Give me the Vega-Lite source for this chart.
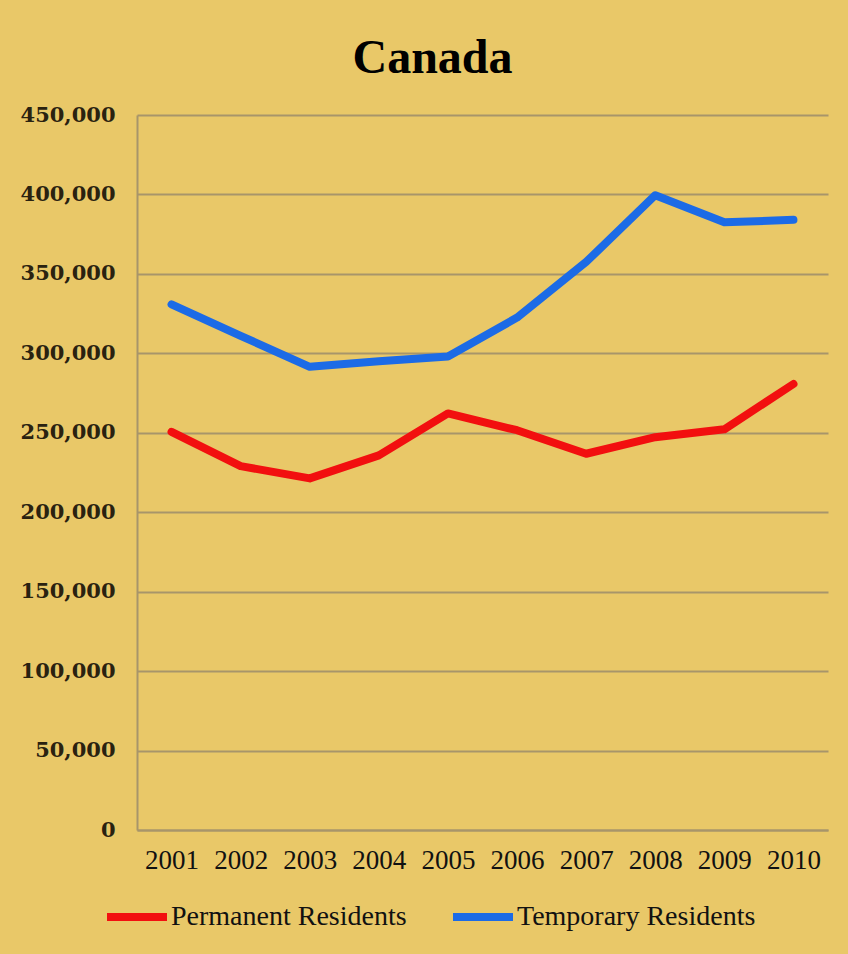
{
  "$schema": "https://vega.github.io/schema/vega-lite/v6.json",
  "autosize": "none",
  "width": 691,
  "height": 715,
  "padding": {"left": 137, "top": 115, "right": 20, "bottom": 124},
  "background": "#E9C868",
  "title": {
    "text": "Canada",
    "font": "Liberation Serif",
    "fontSize": 48,
    "fontWeight": "bold",
    "color": "#000000",
    "anchor": "middle",
    "dx": -50,
    "offset": 21
  },
  "data": {
    "values": [
      {"year": "2001", "series": "Permanent Residents", "value": 250600},
      {"year": "2002", "series": "Permanent Residents", "value": 229000},
      {"year": "2003", "series": "Permanent Residents", "value": 221300},
      {"year": "2004", "series": "Permanent Residents", "value": 235800},
      {"year": "2005", "series": "Permanent Residents", "value": 262200},
      {"year": "2006", "series": "Permanent Residents", "value": 251600},
      {"year": "2007", "series": "Permanent Residents", "value": 236800},
      {"year": "2008", "series": "Permanent Residents", "value": 247200},
      {"year": "2009", "series": "Permanent Residents", "value": 252200},
      {"year": "2010", "series": "Permanent Residents", "value": 280700},
      {"year": "2001", "series": "Temporary Residents", "value": 330800},
      {"year": "2002", "series": "Temporary Residents", "value": 311000},
      {"year": "2003", "series": "Temporary Residents", "value": 291500},
      {"year": "2004", "series": "Temporary Residents", "value": 295000},
      {"year": "2005", "series": "Temporary Residents", "value": 298000},
      {"year": "2006", "series": "Temporary Residents", "value": 322500},
      {"year": "2007", "series": "Temporary Residents", "value": 357500},
      {"year": "2008", "series": "Temporary Residents", "value": 399500},
      {"year": "2009", "series": "Temporary Residents", "value": 382500},
      {"year": "2010", "series": "Temporary Residents", "value": 384000}
    ]
  },
  "mark": {"type": "line", "strokeWidth": 8, "strokeCap": "round", "strokeJoin": "round"},
  "encoding": {
    "x": {
      "field": "year",
      "type": "ordinal",
      "scale": {"type": "point", "padding": 0.5},
      "axis": {
        "title": null,
        "labelAngle": 0,
        "labelFont": "Liberation Serif",
        "labelFontSize": 27,
        "labelColor": "#111111",
        "labelPadding": 17,
        "ticks": false,
        "grid": false,
        "domainColor": "#A8956A",
        "domainWidth": 2
      }
    },
    "y": {
      "field": "value",
      "type": "quantitative",
      "scale": {"domain": [0, 450000], "nice": false},
      "axis": {
        "title": null,
        "values": [0, 50000, 100000, 150000, 200000, 250000, 300000, 350000, 400000, 450000],
        "format": ",d",
        "labelFont": "DejaVu Serif",
        "labelFontSize": 21,
        "labelFontWeight": "bold",
        "labelColor": "#2a2210",
        "labelPadding": 22,
        "ticks": false,
        "gridColor": "#A8956A",
        "gridWidth": 2,
        "gridOpacity": 1,
        "domainColor": "#A8956A",
        "domainWidth": 2
      }
    },
    "color": {
      "field": "series",
      "type": "nominal",
      "scale": {"domain": ["Permanent Residents", "Temporary Residents"], "range": ["#F20F0F", "#1C6BE6"]},
      "legend": {
        "title": null,
        "orient": "none",
        "direction": "horizontal",
        "legendX": -34,
        "legendY": 768,
        "padding": 0,
        "symbolType": "stroke",
        "symbolSize": 3600,
        "symbolStrokeWidth": 8,
        "labelFont": "Liberation Serif",
        "labelFontSize": 28,
        "labelColor": "#111111",
        "labelOffset": 0,
        "labelLimit": 400,
        "columnPadding": 30
      }
    }
  },
  "config": {"view": {"stroke": null}}
}
